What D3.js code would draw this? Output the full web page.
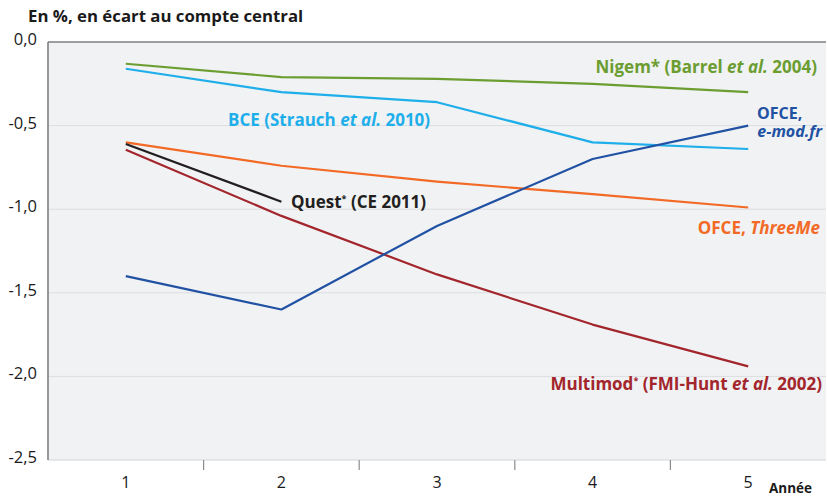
<!DOCTYPE html>
<html>
<head>
<meta charset="utf-8">
<script src="https://cdn.jsdelivr.net/npm/d3@7"></script>
<style>
  body { margin: 0; background: #fff; }
  svg { display: block; font-family: "Open Sans", Lato, sans-serif; }
</style>
</head>
<body>
<svg width="827" height="497"></svg>
<script>
// data
const years = ['1', '2', '3', '4', '5']
const nigem = [-0.13, -0.21, -0.22, -0.25, -0.30]
const bce = [-0.16, -0.30, -0.36, -0.60, -0.64]
const ofceEmod = [-1.40, -1.60, -1.10, -0.70, -0.50]
const ofceThreeMe = [-0.60, -0.74, -0.835, -0.91, -0.99]
const quest = [-0.61, -0.955]
const multimod = [-0.645, -1.04, -1.39, -1.69, -1.94]
const yTicks = [0, -0.5, -1, -1.5, -2, -2.5]

const series = [
  { name: 'nigem', values: nigem, color: '#6b9d31' },
  { name: 'bce', values: bce, color: '#1eaeea' },
  { name: 'threeme', values: ofceThreeMe, color: '#f26a25' },
  { name: 'quest', values: quest, color: '#231f20' },
  { name: 'multimod', values: multimod, color: '#a2262b' },
  { name: 'emod', values: ofceEmod, color: '#2151a3' }
]

const svg = d3.select('svg')
const width = +svg.attr('width')
const height = +svg.attr('height')
const margin = { top: 42, right: 1, bottom: 37, left: 48 }
const innerWidth = width - margin.left - margin.right
const innerHeight = height - margin.top - margin.bottom

const xScale = d3.scaleBand()
  .domain(years)
  .range([0, innerWidth])

const yScale = d3.scaleLinear()
  .domain([-2.5, 0])
  .range([innerHeight, 0])

const fmt = d => d3.format('.1f')(d).replace('.', ',').replace('−', '-')

svg.append('text')
  .attr('x', 28).attr('y', 22)
  .attr('font-size', 16.8).attr('font-weight', 'bold').attr('fill', '#1a1a1a')
  .text('En %, en écart au compte central')

const g = svg.append('g')
  .attr('transform', `translate(${margin.left},${margin.top})`)

g.append('rect')
  .attr('width', innerWidth).attr('height', innerHeight)
  .attr('fill', '#f1f2f4')

// gridlines
g.selectAll('.grid').data(yTicks.filter(d => d < 0 && d > -2.5))
  .enter().append('line')
    .attr('x1', 0).attr('x2', innerWidth)
    .attr('y1', d => yScale(d)).attr('y2', d => yScale(d))
    .attr('stroke', '#dcdde0').attr('stroke-width', 1)

// bottom axis with ticks at band boundaries
g.append('line')
  .attr('x1', 0).attr('x2', innerWidth)
  .attr('y1', innerHeight).attr('y2', innerHeight)
  .attr('stroke', '#d3d4d6').attr('stroke-width', 1.2)

g.selectAll('.xtick').data(years.slice(1))
  .enter().append('line')
    .attr('x1', d => xScale(d)).attr('x2', d => xScale(d))
    .attr('y1', innerHeight).attr('y2', innerHeight + 10)
    .attr('stroke', '#8c8c8c').attr('stroke-width', 1.2)

g.selectAll('.xlabel').data(years)
  .enter().append('text')
    .attr('x', d => xScale(d) + xScale.bandwidth() / 2)
    .attr('y', innerHeight + 28)
    .attr('text-anchor', 'middle')
    .attr('font-size', 16).attr('fill', '#1a1a1a')
    .text(d => d)

svg.append('text')
  .attr('x', 812).attr('y', 493)
  .attr('text-anchor', 'end')
  .attr('font-size', 13.5).attr('font-weight', 'bold').attr('fill', '#1a1a1a')
  .text('Année')

// left axis and top border
g.append('line')
  .attr('x1', 0).attr('x2', innerWidth)
  .attr('y1', 0).attr('y2', 0)
  .attr('stroke', '#7f7f7f').attr('stroke-width', 1.6)
g.append('line')
  .attr('x1', 0).attr('x2', 0)
  .attr('y1', 0).attr('y2', innerHeight)
  .attr('stroke', '#7f7f7f').attr('stroke-width', 1.6)

g.selectAll('.ylabel').data(yTicks)
  .enter().append('text')
    .attr('x', -11)
    .attr('y', d => yScale(d) + 3)
    .attr('text-anchor', 'end')
    .attr('font-size', 16.5).attr('fill', '#1a1a1a')
    .text(fmt)

// lines
const line = d3.line()
  .x((d, i) => xScale(years[i]) + xScale.bandwidth() / 2)
  .y(d => yScale(d))

g.selectAll('.series').data(series)
  .enter().append('path')
    .attr('d', d => line(d.values))
    .attr('fill', 'none')
    .attr('stroke', d => d.color)
    .attr('stroke-width', 2.2)
    .attr('stroke-linejoin', 'round')

// labels: parts are [text, style] with style n = normal, i = italic, s = superscript
const labels = [
  { x: 817, y: 73, anchor: 'end', color: '#6b9d31',
    parts: [['Nigem* (Barrel ', 'n'], ['et al.', 'i'], [' 2004)', 'n']] },
  { x: 228, y: 126, anchor: 'start', color: '#1eaeea',
    parts: [['BCE (Strauch ', 'n'], ['et al.', 'i'], [' 2010)', 'n']] },
  { x: 757, y: 119, anchor: 'start', color: '#2151a3', size: 16,
    parts: [['OFCE,', 'n']] },
  { x: 822, y: 137, anchor: 'end', color: '#2151a3', size: 16,
    parts: [['e-mod.fr', 'i']] },
  { x: 291, y: 208, anchor: 'start', color: '#231f20',
    parts: [['Quest', 'n'], ['*', 's'], [' (CE 2011)', 'n']] },
  { x: 820, y: 234, anchor: 'end', color: '#f26a25',
    parts: [['OFCE, ', 'n'], ['ThreeMe', 'i']] },
  { x: 822, y: 390, anchor: 'end', color: '#a2262b',
    parts: [['Multimod', 'n'], ['*', 's'], [' (FMI-Hunt ', 'n'], ['et al.', 'i'], [' 2002)', 'n']] }
]

labels.forEach(l => {
  const t = svg.append('text')
    .attr('x', l.x).attr('y', l.y)
    .attr('text-anchor', l.anchor)
    .attr('font-size', l.size || 17).attr('font-weight', 'bold')
    .attr('fill', l.color)
  l.parts.forEach(([txt, style]) => {
    const s = t.append('tspan').text(txt)
    if (style === 'i') s.attr('font-style', 'italic')
    if (style === 's') s.attr('font-size', 9).attr('baseline-shift', '70%')
  })
})
</script>
</body>
</html>
